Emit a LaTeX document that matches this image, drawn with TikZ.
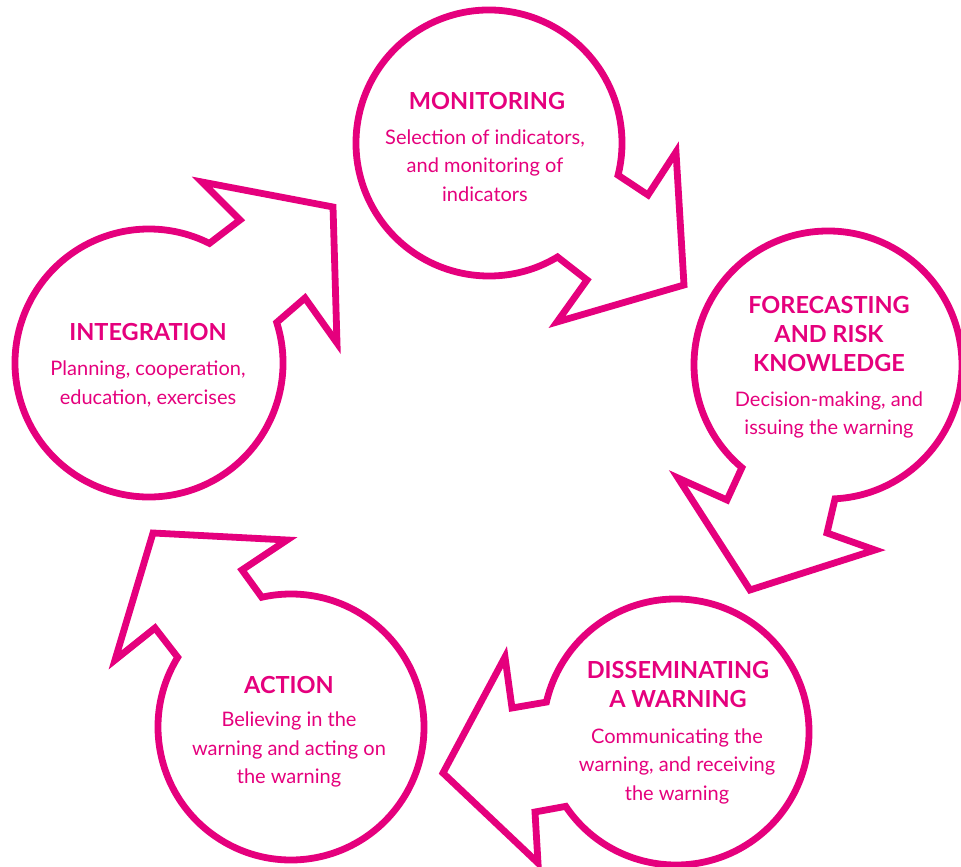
\documentclass[tikz,border=0pt]{standalone}
\usepackage{fontspec}
\setmainfont{Lato}
\usetikzlibrary{calc}
\definecolor{rubine}{RGB}{229,0,125}
\begin{document}
\begin{tikzpicture}[x=1pt,y=1pt,
  cyc/.style={draw=rubine, line width=6.8pt, line join=miter, fill=white},
  ttl/.style={text=rubine, font=\bfseries\fontsize{23.5}{29}\selectfont, align=center, inner sep=0pt},
  bdy/.style={text=rubine, font=\fontsize{20}{28.5}\selectfont, align=center, inner sep=0pt}]
\useasboundingbox (0,0) rectangle (961,867);
% 1 Monitoring
\coordinate (c1) at (489,724);
\draw[cyc] ($(c1)+(-14:133)$) -- (648,672) -- (676,715) -- (684,582) -- (557,545) -- (587,587)
  -- ($(c1)+(-59:133)$) arc[start angle=-59, end angle=-374, radius=133] -- cycle;
% 2 Forecasting
\coordinate (c2) at (828,502);
\draw[cyc] ($(c2)+(-130:134)$) -- (727,367) -- (678,389) -- (750,277) -- (875,317) -- (827,334)
  -- ($(c2)+(-87:134)$) arc[start angle=-87, end angle=230, radius=134] -- cycle;
% 3 Disseminating
\coordinate (c3) at (676,135);
\draw[cyc] ($(c3)+(167:133)$) -- (512,159) -- (505,210) -- (443,94) -- (538,4) -- (535,55)
  -- ($(c3)+(214:133)$) arc[start angle=214, end angle=527, radius=133] -- cycle;
% 4 Action
\coordinate (c4) at (291,140);
\draw[cyc] ($(c4)+(102.7:133)$) -- (242,297) -- (287,327) -- (153,334) -- (115,207) -- (155,239)
  -- ($(c4)+(148.4:133)$) arc[start angle=148.4, end angle=462.7, radius=133] -- cycle;
% 5 Integration
\coordinate (c5) at (149,504);
\draw[cyc] ($(c5)+(63.2:134)$) -- (240,647) -- (202,685) -- (333,660) -- (337,524) -- (305,569)
  -- ($(c5)+(17.6:134)$) arc[start angle=17.6, end angle=-296.8, radius=134] -- cycle;
% texts
\node[ttl] (t1) at (487,766) {MONITORING};
\node[bdy] (b1) at (485,701.5) {Selection of indicators,\\and monitoring of\\indicators};
\node[ttl] (t2) at (829,532.5) {FORECASTING\\AND RISK\\KNOWLEDGE};
\node[bdy] (b2) at (829,452) {Decision-making, and\\issuing the warning};
\node[ttl] (t3) at (678,182.5) {DISSEMINATING\\A WARNING};
\node[bdy] (b3) at (677,101) {Communicating the\\warning, and receiving\\the warning};
\node[ttl] (t4) at (289,182) {ACTION};
\node[bdy] (b4) at (289,117.5) {Believing in the\\warning and acting on\\the warning};
\node[ttl] (t5) at (148,535) {INTEGRATION};
\node[bdy] (b5) at (148,483) {Planning, cooperation,\\education, exercises};
\end{tikzpicture}
\end{document}
